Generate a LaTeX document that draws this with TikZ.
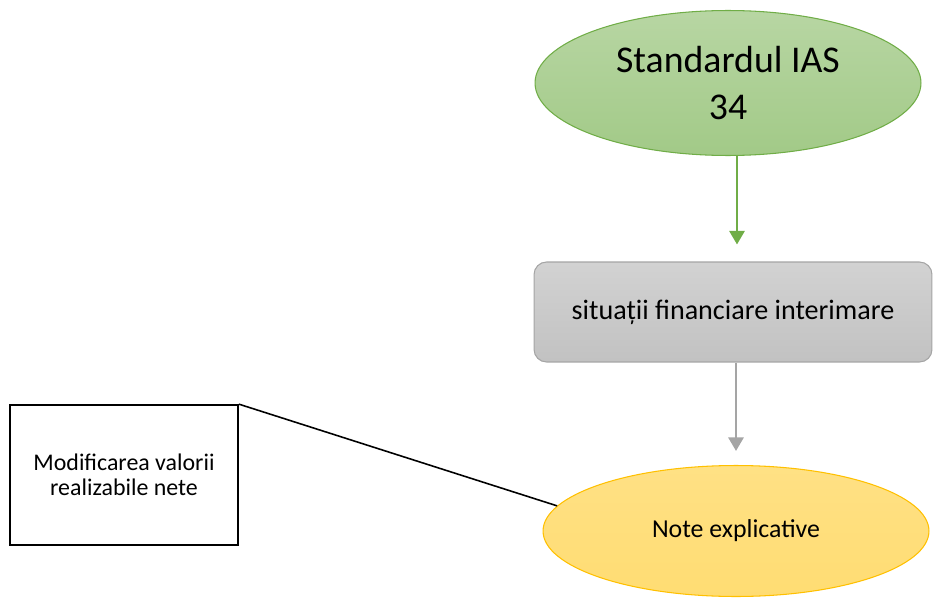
\documentclass[tikz,border=0pt]{standalone}
\usepackage{fontspec}
\setmainfont{Carlito}
\usetikzlibrary{shapes.geometric,arrows.meta}
\definecolor{verde}{HTML}{70AD47}
\definecolor{gri}{HTML}{A5A5A5}
\definecolor{galben}{HTML}{FFC000}
\begin{document}
\begin{tikzpicture}[x=0.02cm, y=-0.02cm,
    sageata/.style={line width=1.5pt, -{Triangle[width=0.3cm,length=0.27cm]}},
    elipsa/.style={ellipse, inner sep=0pt, line width=0.6pt}]
  \useasboundingbox (0,0) rectangle (933,598);
  % standardul
  \node[elipsa, draw=verde, top color=verde!50!white, bottom color=verde!65!white,
    minimum width=7.72cm, minimum height=2.9cm, align=center,
    font=\fontsize{21.5}{26.5}\selectfont] (ias) at (728,83) {Standardul IAS\\34};
  % situatii financiare
  \node[draw=gri, rounded corners=0.25cm, line width=0.6pt,
    top color=gri!50!white, bottom color=gri!68!white,
    minimum width=7.96cm, minimum height=2cm,
    font=\fontsize{16}{19}\selectfont] (sit) at (733,312) {situații financiare interimare};
  % note explicative
  \node[elipsa, draw=galben, top color=galben!48!white, bottom color=galben!55!white,
    minimum width=7.72cm, minimum height=2.62cm,
    font=\fontsize{14.7}{17}\selectfont] (expl) at (736,531) {Note explicative};
  % modificarea valorii
  \node[draw, line width=1pt, minimum width=4.56cm, minimum height=2.8cm, align=center,
    font=\fontsize{13.6}{14.5}\selectfont] (mod) at (124,475) {Modificarea valorii\\realizabile nete};
  \draw[sageata, verde, shorten >=0.34cm] (ias.south -| 737,0) -- (sit.north -| 737,0);
  \draw[sageata, gri, shorten >=0.28cm] (sit.south -| 736,0) -- (expl.north -| 736,0);
  \draw[line width=0.9pt] (mod.north east) -- (expl.172);
\end{tikzpicture}
\end{document}
